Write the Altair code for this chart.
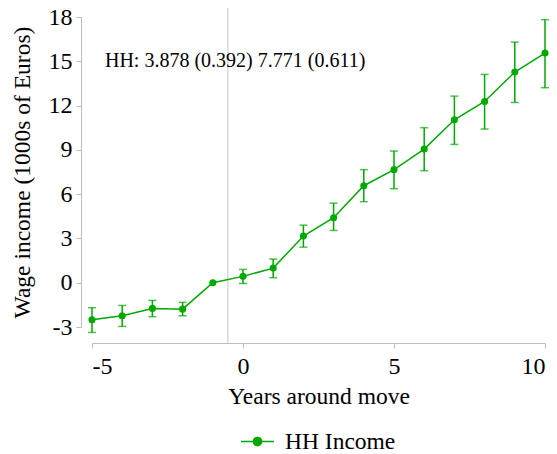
import altair as alt
import pandas as pd

years = list(range(-5, 11))
coef = [-2.51, -2.24, -1.74, -1.79, 0.0, 0.43, 0.99, 3.16, 4.40, 6.57, 7.66, 9.05, 11.04, 12.28, 14.27, 15.56]
lo = [-3.37, -2.96, -2.30, -2.24, None, -0.05, 0.34, 2.41, 3.54, 5.49, 6.37, 7.59, 9.37, 10.41, 12.21, 13.21]
hi = [-1.69, -1.54, -1.20, -1.33, None, 0.90, 1.60, 3.90, 5.39, 7.66, 8.92, 10.50, 12.64, 14.11, 16.30, 17.82]
series_name = "HH Income"
x_ticks = [-5, 0, 5, 10]
y_ticks = [-3, 0, 3, 6, 9, 12, 15, 18]
note_text = "HH: 3.878 (0.392) 7.771 (0.611)"
note_x = [-4.57]
note_y = [14.6]
move_x = [-0.5]

df = pd.DataFrame({"year": years, "coef": coef, "lo": lo, "hi": hi})
df["series"] = series_name
eb = df.dropna()
note_df = pd.DataFrame({"x": note_x, "y": note_y, "label": [note_text]})
vline_df = pd.DataFrame({"x": move_x})

W, H = 453, 310
GREEN = "#00a800"
AXC = "#bdbdbd"
FONT = "Liberation Serif"

xs = alt.Scale(domain=[-5, 10], nice=False, zero=False)
ys = alt.Scale(domain=[-3, 18], nice=False, zero=False)

x_axis = alt.Axis(values=x_ticks, title="Years around move", offset=16, grid=False,
                  tickSize=5, labelPadding=6, labelExpr="datum.value + ''",
                  labelFont=FONT, titleFont=FONT, titlePadding=6)
y_axis = alt.Axis(values=y_ticks, title="Wage income (1000s of Euros)", offset=11,
                  grid=False, tickSize=5, labelPadding=4, labelExpr="datum.value + ''",
                  labelFont=FONT, titleFont=FONT, titlePadding=14)

base = alt.Chart(df)

line = base.mark_line(color=GREEN, strokeWidth=1.5).encode(
    x=alt.X("year:Q", scale=xs, axis=x_axis),
    y=alt.Y("coef:Q", scale=ys, axis=y_axis),
)

rules = alt.Chart(eb).mark_rule(color=GREEN, strokeWidth=1.5).encode(
    x=alt.X("year:Q", scale=xs, axis=x_axis),
    y=alt.Y("lo:Q", scale=ys, axis=y_axis),
    y2="hi:Q",
)
cap_lo = alt.Chart(eb).mark_tick(color=GREEN, thickness=1.5, size=8, orient="horizontal").encode(
    x=alt.X("year:Q", scale=xs, axis=x_axis), y=alt.Y("lo:Q", scale=ys, axis=y_axis))
cap_hi = alt.Chart(eb).mark_tick(color=GREEN, thickness=1.5, size=8, orient="horizontal").encode(
    x=alt.X("year:Q", scale=xs, axis=x_axis), y=alt.Y("hi:Q", scale=ys, axis=y_axis))

sym = "M-1,0L1,0M-0.25,0A0.25,0.25,0,1,1,0.25,0A0.25,0.25,0,1,1,-0.25,0Z"
points = base.mark_circle(size=50, opacity=1).encode(
    x=alt.X("year:Q", scale=xs, axis=x_axis),
    y=alt.Y("coef:Q", scale=ys, axis=y_axis),
    color=alt.Color("series:N", scale=alt.Scale(domain=[series_name], range=[GREEN]),
                    legend=alt.Legend(title=None, orient="none", legendX=148, legendY=407,
                                      symbolType=sym, symbolSize=1089,
                                      symbolStrokeWidth=1.5, symbolStrokeColor=GREEN,
                                      symbolFillColor=GREEN,
                                      labelFont=FONT, labelFontSize=23.5, labelColor="black",
                                      labelOffset=10, padding=0)),
)

vline = alt.Chart(vline_df).mark_rule(color="#c8c8c8", strokeWidth=1).encode(
    x=alt.X("x:Q", scale=xs, axis=x_axis), y=alt.value(-9), y2=alt.value(H + 16))

note = alt.Chart(note_df).mark_text(align="left", baseline="alphabetic", font=FONT,
                                    fontSize=20, color="black").encode(
    x=alt.X("x:Q", scale=xs, axis=x_axis), y=alt.Y("y:Q", scale=ys, axis=y_axis),
    text="label:N")

chart = alt.layer(vline, line, rules, cap_lo, cap_hi, points, note).properties(
    width=W, height=H,
    autosize=alt.AutoSizeParams(type="none"),
    padding={"left": 84, "top": 9, "right": 4, "bottom": 127},
).configure(background="white", font=FONT).configure_view(stroke=None).configure_axis(
    domainColor=AXC, tickColor=AXC,
    labelFont=FONT, labelFontSize=24, labelColor="black",
    titleFont=FONT, titleFontSize=23.5, titleFontWeight="normal", titleColor="black",
).configure_text(font=FONT)

chart.save("out.html", embed_options={"renderer": "svg", "actions": False})
